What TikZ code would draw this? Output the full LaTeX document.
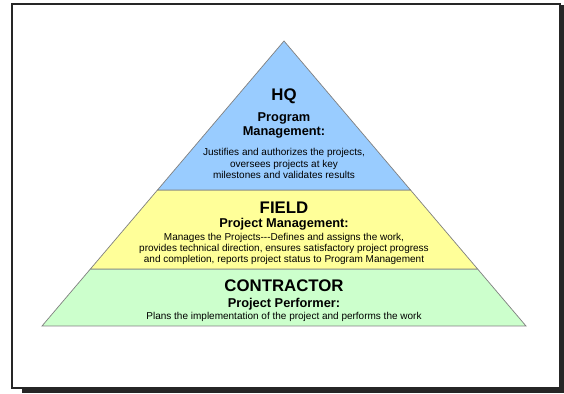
\documentclass[tikz,border=0pt]{standalone}
\usepackage{fontspec}
\setmainfont{Liberation Sans}
\usepackage{xcolor}
\usetikzlibrary{positioning}
\definecolor{hqblue}{HTML}{99CCFF}
\definecolor{fieldyellow}{HTML}{FFFF99}
\definecolor{contrgreen}{HTML}{CCFFCC}
\definecolor{framegray}{HTML}{262626}
\tikzset{layer/.style={draw=black!50, line width=0.7pt, line join=miter},
         tier/.style={font=\bfseries\fontsize{16.8}{19}\selectfont, inner sep=0pt},
         role/.style={font=\bfseries\fontsize{12.8}{14.5}\selectfont, align=center, inner sep=0pt},
         duty/.style={font=\fontsize{10}{11.3}\selectfont, align=center, inner sep=0pt}}

\begin{document}
\begin{tikzpicture}[x=1pt, y=1pt]
                \useasboundingbox (0,0) rectangle (564,393);
                % frame with drop shadow
                \fill[framegray] (22,0) rectangle (564,388);
                \draw[framegray, fill=white, line width=2pt] (12,5) rectangle (560,389);

                % pyramid layers
                \coordinate (apex) at (284,352);
                \coordinate (bl) at (42,67);
                \coordinate (br) at (526,67);
                \coordinate (hql) at (157.5,203);
                \coordinate (hqr) at (410.5,203);
                \coordinate (fl) at (90.4,124);
                \coordinate (fr) at (477.6,124);

                \draw[layer, fill=contrgreen] (fl) -- (fr) -- (br) -- (bl) -- cycle;
                \draw[layer, fill=fieldyellow] (hql) -- (hqr) -- (fr) -- (fl) -- cycle;
                \draw[layer, fill=hqblue] (apex) -- (hqr) -- (hql) -- cycle;

                % HQ
                \node[tier] (hq) at (284,296.3) {HQ};
                \node[role] (prog) [below of = hq, node distance=29pt] {Program\\Management:};
                \node[duty, font=\fontsize{10}{11.5}\selectfont] (hqduty) [below of = prog, node distance=38pt]
                    {Justifies and authorizes the projects,\\oversees projects at key\\milestones and validates results};

                % FIELD
                \node[tier] (field) at (284,185.7) {FIELD};
                \node[role] (fieldrole) [below of = field, node distance=17.4pt] {Project Management:};
                \node[duty] (fieldduty) [below of = fieldrole, node distance=24.3pt]
                    {Manages the Projects-{}-{}-Defines and assigns the work,\\provides technical direction, ensures satisfactory project progress\\and completion, reports project status to Program Management};

                % CONTRACTOR
                \node[tier] (contr) at (284,107) {CONTRACTOR};
                \node[role] (contrrole) [below of = contr, node distance=17.7pt] {Project Performer:};
                \node[duty] (contrduty) [below of = contrrole, node distance=12.8pt]
                    {Plans the implementation of the project and performs the work};
            \end{tikzpicture}
\end{document}
